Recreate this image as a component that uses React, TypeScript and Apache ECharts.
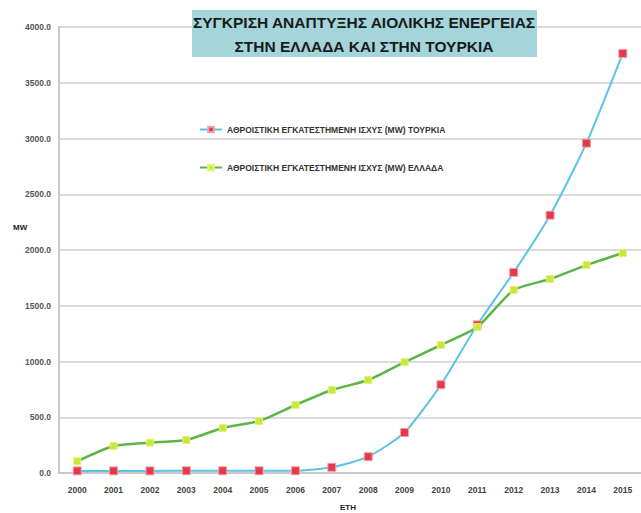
import React, { useEffect, useRef } from "react";
import * as echarts from "echarts";

const years = ["2000","2001","2002","2003","2004","2005","2006","2007","2008","2009","2010","2011","2012","2013","2014","2015"];
const turkey = [19, 19, 19, 20, 20, 20, 20, 51, 146, 363, 792, 1329, 1799, 2312, 2958, 3763];
const greece = [105, 242, 272, 296, 404, 466, 610, 744, 834, 995, 1148, 1309, 1641, 1740, 1865, 1973];
const seriesNames = [
  "ΑΘΡΟΙΣΤΙΚΗ ΕΓΚΑΤΕΣΤΗΜΕΝΗ ΙΣΧΥΣ (MW) ΤΟΥΡΚΙΑ",
  "ΑΘΡΟΙΣΤΙΚΗ ΕΓΚΑΤΕΣΤΗΜΕΝΗ ΙΣΧΥΣ (MW) ΕΛΛΑΔΑ",
];
const titleLines = ["ΣΥΓΚΡΙΣΗ ΑΝΑΠΤΥΞΗΣ ΑΙΟΛΙΚΗΣ ΕΝΕΡΓΕΙΑΣ", "ΣΤΗΝ ΕΛΛΑΔΑ ΚΑΙ ΣΤΗΝ ΤΟΥΡΚΙΑ"];
const yName = "MW";
const xName = "ΕΤΗ";

export default function App() {
  const ref = useRef<HTMLDivElement>(null);
  useEffect(() => {
    document.body.style.margin = "0";
    const chart = echarts.init(ref.current!, null, { renderer: "svg" });
    const font = "Liberation Sans";
    chart.setOption({
      animation: false,
      backgroundColor: "#ffffff",
      textStyle: { fontFamily: font },
      grid: { left: 59, right: -4, top: 27, bottom: 40, containLabel: false },
      legend: {
        orient: "vertical",
        left: 194,
        top: 120,
        itemGap: 29,
        itemWidth: 22,
        itemHeight: 7,
        textStyle: { fontSize: 8.5, color: "#333", fontWeight: "bold", fontFamily: font },
        data: seriesNames,
      },
      xAxis: {
        type: "category",
        data: years,
        boundaryGap: true,
        axisLine: { lineStyle: { color: "#c8c8c8", width: 2 } },
        axisTick: { show: false },
        axisLabel: { fontSize: 8.5, color: "#444", fontWeight: "bold", margin: 12 },
      },
      yAxis: {
        type: "value",
        min: 0,
        max: 4000,
        interval: 500,
        axisLine: { show: true, lineStyle: { color: "#c8c8c8", width: 2 } },
        axisTick: { show: false },
        splitLine: { lineStyle: { color: "#dcdcdc", width: 2 } },
        axisLabel: {
          fontSize: 8.5,
          color: "#555",
          fontWeight: "bold",
          margin: 8,
          formatter: (v: number) => v.toFixed(1),
        },
      },
      graphic: [
        {
          type: "rect",
          z: 10,
          shape: { x: 192, y: 10, width: 345, height: 47 },
          style: { fill: "#a3d5da" },
        },
        {
          type: "text",
          z: 11,
          x: 364,
          y: 34,
          style: {
            text: titleLines.join("\n"),
            fontSize: 15.5,
            lineHeight: 24,
            fontWeight: "bold",
            fontFamily: font,
            fill: "#1a1a1a",
            align: "center",
            verticalAlign: "middle",
          },
        },
        {
          type: "text",
          x: 13,
          y: 227,
          style: {
            text: yName,
            fontSize: 8,
            fontWeight: "bold",
            fontFamily: font,
            fill: "#222",
            verticalAlign: "middle",
          },
        },
        {
          type: "text",
          x: 348,
          y: 507,
          style: {
            text: xName,
            fontSize: 8,
            fontWeight: "bold",
            fontFamily: font,
            fill: "#222",
            align: "center",
            verticalAlign: "middle",
          },
        },
      ],
      series: [
        {
          name: seriesNames[0],
          type: "line",
          data: turkey,
          symbol: "rect",
          symbolSize: 8,
          smooth: 0.2,
          lineStyle: { color: "#5bc3e8", width: 2 },
          itemStyle: { color: "#e3394b", borderColor: "#f4a0a8", borderWidth: 1 },
          z: 2,
        },
        {
          name: seriesNames[1],
          type: "line",
          data: greece,
          symbol: "rect",
          symbolSize: 7,
          smooth: 0.2,
          lineStyle: { color: "#5cb548", width: 2.5 },
          itemStyle: { color: "#cbe63a", borderColor: "#e2f27a", borderWidth: 1 },
          z: 3,
        },
      ],
    });
    return () => chart.dispose();
  }, []);
  return <div ref={ref} style={{ width: 641, height: 513 }} />;
}
